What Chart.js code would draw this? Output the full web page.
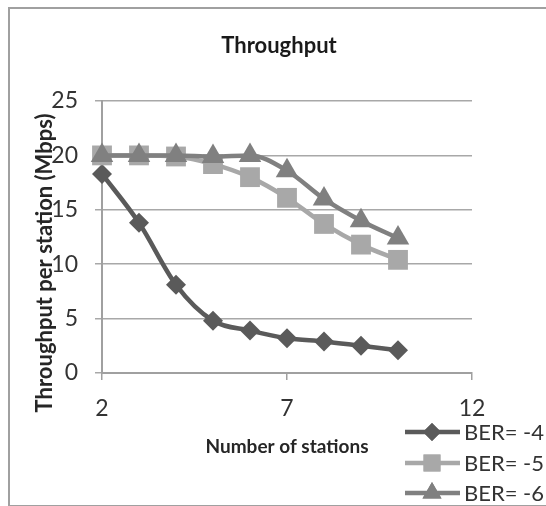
<!DOCTYPE html>
<html>
<head>
<meta charset="utf-8">
<script src="https://cdn.jsdelivr.net/npm/chart.js@4"></script>
<style>
  html, body { margin: 0; padding: 0; background: #fff; }
  #wrap { position: relative; width: 546px; height: 506px; }
  #frame { position: absolute; left: 8px; top: 7px; width: 540px; height: 496px;
           border-left: 2px solid #a0a0a0; border-top: 2px solid #a0a0a0; border-bottom: 2px solid #a0a0a0; }
  canvas { position: absolute; left: 0; top: 0; }
</style>
</head>
<body>
<div id="wrap">
  <div id="frame"></div>
  <canvas id="c" width="546" height="506"></canvas>
</div>
<script>
// ---- data ----
const stations = [2, 3, 4, 5, 6, 7, 8, 9, 10];
const ber4 = [18.3, 13.8, 8.1, 4.8, 3.9, 3.2, 2.9, 2.5, 2.1];
const ber5 = [20, 20, 19.9, 19.2, 18.0, 16.1, 13.7, 11.8, 10.4];
const ber6 = [20, 20, 20, 19.9, 20, 18.6, 16.0, 14.0, 12.4];
const seriesNames = ['BER= -4', 'BER= -5', 'BER= -6'];
const xTickValues = [2, 7, 12];
const yTickValues = [0, 5, 10, 15, 20, 25];
const chartTitle = 'Throughput';
const xTitle = 'Number of stations';
const yTitle = 'Throughput per station (Mbps)';

const toPts = arr => arr.map((v, i) => ({ x: stations[i], y: v }));

const FONT = 'Lato, "Open Sans", sans-serif';
const colors = ['#5a5a5a', '#a8a8a8', '#808080'];
const styles = ['rectRot', 'rect', 'triangle'];
const radii = [10, 14, 13];
const legendRadii = [9, 12, 11];

const textPlugin = {
  id: 'texts',
  afterDraw(chart) {
    const ctx = chart.ctx;
    // chart title
    ctx.save();
    ctx.font = 'bold 22px ' + FONT;
    ctx.fillStyle = '#1a1a1a';
    ctx.textAlign = 'center';
    ctx.textBaseline = 'middle';
    ctx.fillText(chartTitle, 279, 46);
    ctx.restore();
    // y axis title
    ctx.save();
    ctx.translate(45, 263);
    ctx.rotate(-Math.PI / 2);
    ctx.font = 'bold 22px ' + FONT;
    ctx.fillStyle = '#262626';
    ctx.textAlign = 'center';
    ctx.textBaseline = 'middle';
    ctx.fillText(yTitle, 0, 0);
    ctx.restore();
  }
};

const legendPlugin = {
  id: 'customLegend',
  afterDraw(chart) {
    const ctx = chart.ctx;
    const rows = [432, 463, 493];
    chart.data.datasets.forEach((ds, i) => {
      const y = rows[i];
      ctx.save();
      ctx.strokeStyle = ds.borderColor;
      ctx.lineWidth = 4.5;
      ctx.beginPath();
      ctx.moveTo(405, y);
      ctx.lineTo(460, y);
      ctx.stroke();
      ctx.fillStyle = ds.pointBackgroundColor;
      Chart.helpers.drawPoint(ctx, { pointStyle: ds.pointStyle, radius: legendRadii[i], borderWidth: 0 }, 432, y);
      ctx.fill();
      ctx.font = '22px ' + FONT;
      ctx.fillStyle = '#333333';
      ctx.textAlign = 'left';
      ctx.textBaseline = 'middle';
      ctx.fillText(ds.label, 464, y + 1);
      ctx.restore();
    });
  }
};

const data = {
  datasets: [ber4, ber5, ber6].map((arr, i) => ({
    label: seriesNames[i],
    data: toPts(arr),
    borderColor: colors[i],
    backgroundColor: colors[i],
    pointBackgroundColor: colors[i],
    pointBorderColor: colors[i],
    pointBorderWidth: 0,
    pointStyle: styles[i],
    pointRadius: radii[i],
    pointHoverRadius: radii[i],
    borderWidth: 4.5,
    cubicInterpolationMode: 'monotone',
    order: 3 - i,
    clip: false
  }))
};

new Chart(document.getElementById('c'), {
  type: 'line',
  data,
  options: {
    responsive: false,
    animation: false,
    events: [],
    layout: { padding: { left: 0, right: 74, top: 101, bottom: 0 } },
    plugins: {
      legend: { display: false },
      tooltip: { enabled: false },
      title: { display: false }
    },
    scales: {
      x: {
        type: 'linear',
        min: 2, max: 12,
        afterBuildTicks: s => { s.ticks = xTickValues.map(v => ({ value: v })); },
        afterFit: s => { s.height = 133; },
        grid: { drawOnChartArea: false, drawTicks: true, tickLength: 7, color: '#a0a0a0', lineWidth: 1.5 },
        border: { display: true, color: '#a0a0a0', width: 2 },
        ticks: { color: '#333333', font: { family: FONT, size: 23 }, padding: 15, maxRotation: 0 },
        title: {
          display: true, text: xTitle, color: '#262626',
          font: { family: FONT, size: 19, weight: 'bold', lineHeight: 1.2 },
          padding: { top: 4, bottom: 48 }
        }
      },
      y: {
        type: 'linear',
        min: 0, max: 25,
        afterBuildTicks: s => { s.ticks = yTickValues.map(v => ({ value: v })); },
        afterFit: s => { s.width = 102; },
        grid: { drawOnChartArea: true, drawTicks: true, tickLength: 7, color: '#a8a8a8', lineWidth: 1.5 },
        border: { display: true, color: '#a0a0a0', width: 2 },
        ticks: { color: '#333333', font: { family: FONT, size: 23 }, padding: 17 }
      }
    }
  },
  plugins: [textPlugin, legendPlugin]
});
</script>
</body>
</html>
